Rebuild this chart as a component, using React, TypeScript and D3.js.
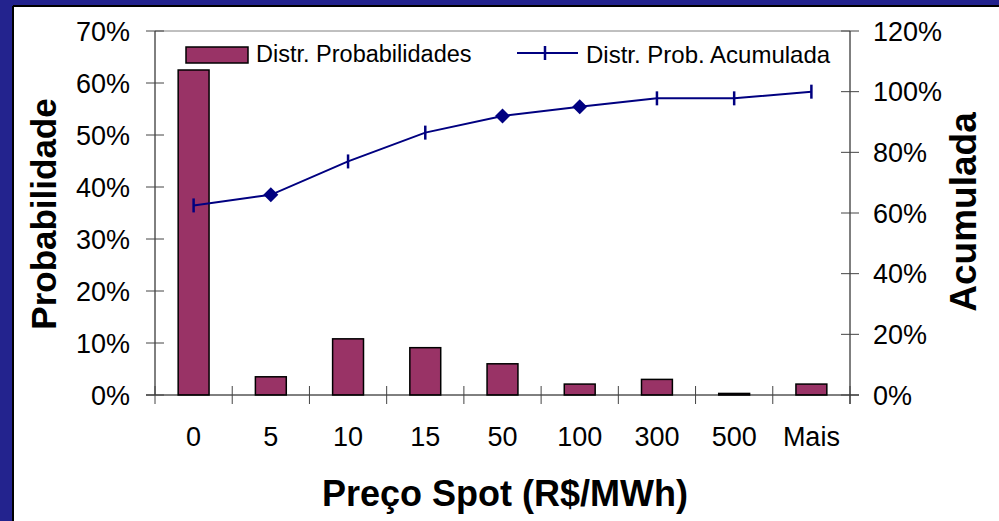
import React from 'react';
import * as d3 from 'd3';

const categories = ['0', '5', '10', '15', '50', '100', '300', '500', 'Mais'];
const probabilities = [0.625, 0.035, 0.108, 0.091, 0.06, 0.021, 0.03, 0.003, 0.021];
const cumulative = [0.625, 0.66, 0.77, 0.865, 0.92, 0.95, 0.978, 0.978, 1.0];
const markerShapes = ['dash', 'diamond', 'dash', 'dash', 'diamond', 'diamond', 'dash', 'dash', 'dash'];
const leftTicks = [0, 0.1, 0.2, 0.3, 0.4, 0.5, 0.6, 0.7];
const rightTicks = [0, 0.2, 0.4, 0.6, 0.8, 1.0, 1.2];

const W = 999;
const H = 521;
const FONT = "Arial, 'Liberation Sans', sans-serif";
const BAR = '#993366';
const LINE = '#000080';

export default function App() {
  const left = 155, right = 850, top = 31, bottom = 395;
  const x = d3.scaleBand<string>().domain(categories).range([left, right]).padding(0);
  const yL = d3.scaleLinear().domain([0, 0.7]).range([bottom, top]);
  const yR = d3.scaleLinear().domain([0, 1.2]).range([bottom, top]);
  const bw = x.bandwidth() / 2.5;
  const cx = (c: string) => (x(c) as number) + x.bandwidth() / 2;
  const pct = d3.format('.0%');
  const line = d3.line<number>().x((_, i) => cx(categories[i])).y((d) => yR(d));
  const boundaries = d3.range(categories.length + 1).map((i) => left + i * x.step());

  const marker = (shape: string, px: number, py: number, key: string) =>
    shape === 'diamond' ? (
      <path key={key} d={`M${px},${py - 7.5}L${px + 7.5},${py}L${px},${py + 7.5}L${px - 7.5},${py}Z`} fill={LINE} />
    ) : (
      <line key={key} x1={px} x2={px} y1={py - 7} y2={py + 7} stroke={LINE} strokeWidth={2.5} />
    );

  return (
    <svg width={W} height={H} style={{ position: 'absolute', left: 0, top: 0, display: 'block', overflow: 'hidden' }} fontFamily={FONT}>
      <rect x={0} y={0} width={W} height={H} fill="#ffffff" />
      <rect x={0} y={0} width={W} height={6} fill="#23238e" />
      <rect x={0} y={0} width={13} height={H} fill="#23238e" />
      <line x1={13} x2={W} y1={6} y2={6} stroke="#000" strokeWidth={2} />
      <line x1={13} x2={13} y1={6} y2={H} stroke="#000" strokeWidth={2} />

      {/* plot area top border */}
      <line x1={left} x2={right} y1={top} y2={top} stroke="#808080" strokeWidth={1} />

      {/* bars */}
      {probabilities.map((v, i) => (
        <rect key={'b' + i} x={cx(categories[i]) - bw / 2} y={yL(v)} width={bw} height={bottom - yL(v)}
          fill={BAR} stroke="#000" strokeWidth={1.5} />
      ))}

      {/* axes */}
      <line x1={left} x2={left} y1={top} y2={bottom} stroke="#000" strokeWidth={1} />
      <line x1={right} x2={right} y1={top} y2={bottom + 9} stroke="#000" strokeWidth={1} />
      <line x1={left - 9} x2={right + 9} y1={bottom} y2={bottom} stroke="#000" strokeWidth={1} />
      {leftTicks.map((t) => (
        <g key={'lt' + t}>
          <line x1={left - 9} x2={left + 9} y1={yL(t)} y2={yL(t)} stroke="#444" strokeWidth={1} />
          <text x={130} y={yL(t)} dy="0.36em" textAnchor="end" fontSize={27} fill="#000">{pct(t)}</text>
        </g>
      ))}
      {rightTicks.map((t) => (
        <g key={'rt' + t}>
          <line x1={right - 9} x2={right + 9} y1={yR(t)} y2={yR(t)} stroke="#444" strokeWidth={1} />
          <text x={873} y={yR(t)} dy="0.36em" textAnchor="start" fontSize={27} fill="#000">{pct(t)}</text>
        </g>
      ))}
      {boundaries.map((b, i) => (
        <line key={'xt' + i} x1={b} x2={b} y1={bottom - 9} y2={bottom + 9} stroke="#444" strokeWidth={1} />
      ))}
      {categories.map((c) => (
        <text key={'xl' + c} x={cx(c)} y={436} dy="0.36em" textAnchor="middle" fontSize={27} fill="#000">{c}</text>
      ))}

      {/* cumulative line */}
      <path d={line(cumulative) || ''} fill="none" stroke={LINE} strokeWidth={2} />
      {cumulative.map((v, i) => marker(markerShapes[i], cx(categories[i]), yR(v), 'm' + i))}

      {/* legend */}
      <rect x={186} y={47} width={62} height={16} fill={BAR} stroke="#000" strokeWidth={1.5} />
      <text x={256} y={54} dy="0.36em" fontSize={23.5} fill="#000">Distr. Probabilidades</text>
      <line x1={517} x2={578} y1={53} y2={53} stroke={LINE} strokeWidth={2} />
      <line x1={545} x2={545} y1={46} y2={60} stroke={LINE} strokeWidth={2.5} />
      <text x={586} y={54} dy="0.36em" fontSize={24} fill="#000">Distr. Prob. Acumulada</text>

      {/* axis titles */}
      <text x={505} y={493} dy="0.36em" textAnchor="middle" fontSize={36} fontWeight="bold" fill="#000">Preço Spot (R$/MWh)</text>
      <text transform="translate(43,214) rotate(-90)" dy="0.36em" textAnchor="middle" fontSize={35} fontWeight="bold" fill="#000">Probabilidade</text>
      <text transform="translate(963,212) rotate(-90)" dy="0.36em" textAnchor="middle" fontSize={37} fontWeight="bold" fill="#000">Acumulada</text>
    </svg>
  );
}
